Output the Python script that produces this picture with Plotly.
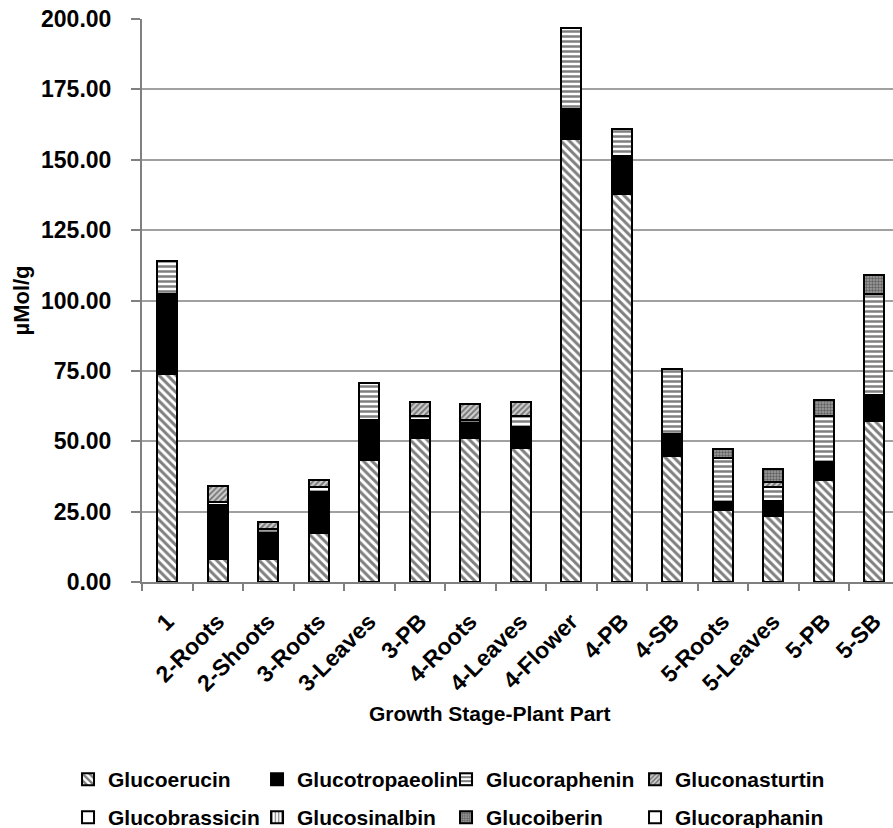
import plotly.graph_objects as go

# Growth stage / plant part categories
categories = ["1", "2-Roots", "2-Shoots", "3-Roots", "3-Leaves", "3-PB", "4-Roots",
              "4-Leaves", "4-Flower", "4-PB", "4-SB", "5-Roots", "5-Leaves", "5-PB", "5-SB"]

# Glucosinolate content (µMol/g) per compound, stacked bottom to top
glucoerucin = [74.0, 8.0, 8.0, 17.5, 43.3, 51.0, 51.0, 47.6, 157.3, 137.9, 44.8, 25.6, 23.6, 36.2, 57.2]
glucotropaeolin = [28.4, 19.5, 9.5, 14.3, 14.1, 6.5, 5.4, 7.5, 10.7, 13.6, 7.6, 2.7, 5.3, 6.5, 9.1]
glucoraphenin = [11.8, 1.0, 1.5, 2.0, 13.4, 1.5, 1.0, 4.0, 28.9, 9.3, 23.4, 15.6, 4.7, 16.3, 36.1]
gluconasturtin = [0, 5.5, 2.2, 2.6, 0, 4.8, 5.8, 4.8, 0, 0, 0, 0, 1.8, 0, 0]
glucobrassicin = [0] * 15
glucosinalbin = [0] * 15
glucoiberin = [0, 0, 0, 0, 0, 0, 0, 0, 0, 0, 0, 3.3, 4.9, 5.8, 6.8]
glucoraphanin = [0] * 15

y_ticks = [0, 25, 50, 75, 100, 125, 150, 175, 200]

FONT = "Liberation Sans, Arial, sans-serif"

# (name, values, pattern, legend row)
series = [
    ("Glucoerucin", glucoerucin, dict(shape="\\", fgcolor="black", bgcolor="white", size=6, solidity=0.5), "legend"),
    ("Glucotropaeolin", glucotropaeolin, None, "legend"),
    ("Glucoraphenin", glucoraphenin, dict(shape="-", fgcolor="black", bgcolor="white", size=5, solidity=0.5), "legend"),
    ("Gluconasturtin", gluconasturtin, dict(shape="/", fgcolor="#222222", bgcolor="#d0d0d0", size=4, solidity=0.5), "legend"),
    ("Glucobrassicin", glucobrassicin, None, "legend2"),
    ("Glucosinalbin", glucosinalbin, dict(shape="|", fgcolor="black", bgcolor="white", size=4, solidity=0.4), "legend2"),
    ("Glucoiberin", glucoiberin, dict(shape=".", fgcolor="#222222", bgcolor="#a0a0a0", size=3, solidity=0.5), "legend2"),
    ("Glucoraphanin", glucoraphanin, None, "legend2"),
]
solid_fill = {"Glucotropaeolin": "black", "Glucobrassicin": "white", "Glucoraphanin": "white"}

fig = go.Figure()
for name, vals, pattern, leg in series:
    marker = dict(color=solid_fill.get(name, "white"), line=dict(color="black", width=2))
    if pattern:
        marker["pattern"] = pattern
    fig.add_trace(go.Bar(x=categories, y=vals, name=name, marker=marker, width=0.39, legend=leg))

legend_font = dict(family=FONT, size=21, color="black", weight="bold")
legend_common = dict(orientation="h", x=-0.0985, xanchor="left", yanchor="top",
                     traceorder="normal", entrywidth=144, entrywidthmode="pixels",
                     font=legend_font, bgcolor="rgba(0,0,0,0)")

fig.update_layout(
    width=893, height=828, autosize=False,
    margin=dict(l=142, r=0, t=19, b=246, autoexpand=False),
    barmode="stack",
    plot_bgcolor="white", paper_bgcolor="white",
    font=dict(family=FONT, size=22, color="black", weight="bold"),
    showlegend=True,
    legend=dict(y=-0.3144, **legend_common),
    legend2=dict(y=-0.3819, **legend_common),
    xaxis=dict(type="category", range=[-0.5, 14.37], showline=True, linecolor="#808080",
               linewidth=2, ticks="outside", ticklen=7, tickwidth=1.5, tickcolor="#808080",
               tickson="boundaries", tickangle=-45, showgrid=False, ticklabelstandoff=15,
               tickfont=dict(family=FONT, size=23, color="black", weight="bold")),
    yaxis=dict(range=[0, 200], tickvals=y_ticks, tickformat=".2f", showgrid=True,
               gridcolor="#a0a0a0", gridwidth=2, showline=True, linecolor="#808080",
               linewidth=2, ticks="outside", ticklen=9, tickwidth=1.5, tickcolor="#808080",
               zeroline=False, ticklabelstandoff=15,
               tickfont=dict(family=FONT, size=23, color="black", weight="bold"),
               title=dict(text="µMol/g", standoff=5,
                          font=dict(family=FONT, size=22, color="black", weight="bold"))),
    annotations=[dict(text="Growth Stage-Plant Part", xref="paper", yref="paper",
                      x=0.4634, y=-0.233, xanchor="center", yanchor="middle", showarrow=False,
                      font=dict(family=FONT, size=21, color="black", weight="bold"))],
)

fig.write_html("out.html")
